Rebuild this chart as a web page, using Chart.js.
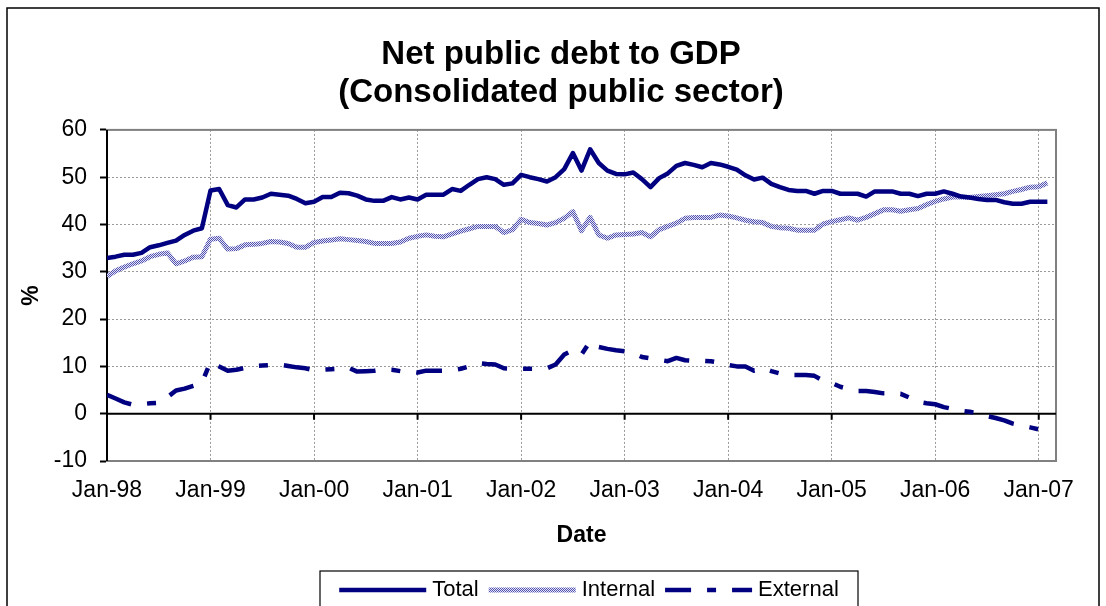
<!DOCTYPE html>
<html>
<head>
<meta charset="utf-8">
<script src="https://cdn.jsdelivr.net/npm/chart.js@4.4.1/dist/chart.umd.min.js"></script>
<style>
  body { margin: 0; background: #fff; }
</style>
</head>
<body>
<canvas id="myChart" width="1106" height="606"></canvas>
<script>
// monthly, Jan-98 .. Feb-07
const tickLabels = ["Jan-98", "Jan-99", "Jan-00", "Jan-01", "Jan-02", "Jan-03", "Jan-04", "Jan-05", "Jan-06", "Jan-07"];

const total = [
  32.9, 33.2, 33.6, 33.6, 34.0, 35.2, 35.6, 36.1, 36.6, 37.8, 38.7, 39.2,
  47.2, 47.5, 44.1, 43.6, 45.3, 45.3, 45.7, 46.5, 46.3, 46.1, 45.4, 44.5,
  44.8, 45.8, 45.8, 46.7, 46.6, 46.1, 45.3, 45.0, 45.0, 45.8, 45.3, 45.7,
  45.3, 46.3, 46.3, 46.3, 47.5, 47.1, 48.4, 49.6, 50.0, 49.6, 48.4, 48.7,
  50.5, 50.0, 49.6, 49.1, 50.0, 51.7, 55.1, 51.4, 55.9, 53.0, 51.4, 50.7,
  50.6, 51.0, 49.6, 47.9, 49.8, 50.8, 52.4, 53.0, 52.6, 52.1, 53.0, 52.7,
  52.2, 51.6, 50.4, 49.5, 49.9, 48.6, 47.9, 47.3, 47.1, 47.1, 46.5, 47.1,
  47.1, 46.5, 46.5, 46.5, 45.9, 47.0, 47.0, 47.0, 46.5, 46.5, 46.0, 46.5,
  46.5, 47.0, 46.5, 45.9, 45.7, 45.4, 45.2, 45.2, 44.7, 44.4, 44.4, 44.8,
  44.8, 44.8
];

const internal = [
  29.0, 30.2, 31.0, 31.7, 32.3, 33.2, 33.7, 34.0, 31.7, 32.3, 33.1, 33.2,
  36.9, 37.1, 34.8, 34.9, 35.7, 35.8, 36.0, 36.4, 36.3, 36.0, 35.2, 35.2,
  36.2, 36.5, 36.7, 37.0, 36.8, 36.6, 36.4, 36.0, 36.0, 36.0, 36.3, 37.1,
  37.5, 37.8, 37.5, 37.4, 38.0, 38.6, 39.1, 39.6, 39.6, 39.6, 38.3, 38.9,
  41.1, 40.4, 40.2, 39.9, 40.4, 41.3, 42.7, 38.7, 41.5, 37.8, 37.1, 37.8,
  37.9, 38.0, 38.3, 37.4, 38.9, 39.6, 40.3, 41.3, 41.5, 41.5, 41.5, 42.0,
  41.8, 41.4, 40.9, 40.6, 40.4, 39.6, 39.3, 39.2, 38.8, 38.8, 38.8, 40.1,
  40.6, 41.0, 41.4, 40.9, 41.5, 42.3, 43.1, 43.1, 42.8, 43.1, 43.4, 44.2,
  44.9, 45.4, 45.8, 45.8, 45.7, 45.9, 46.1, 46.3, 46.5, 47.0, 47.4, 47.9,
  48.0, 48.8
];

const external = [
  4.0, 3.2, 2.4, 1.9, 2.0, 2.2, 2.3, 3.5, 4.9, 5.3, 5.9, 6.5,
  11.0, 10.0, 9.1, 9.3, 9.7, 10.1, 10.2, 10.3, 10.4, 10.1, 9.8, 9.6,
  9.2, 9.3, 9.4, 9.5, 9.7, 8.9, 9.0, 9.1, 9.4, 9.3, 9.0, 8.9,
  8.7, 9.1, 9.1, 9.1, 9.2, 9.5, 10.0, 10.7, 10.5, 10.4, 9.6, 9.5,
  9.5, 9.5, 9.5, 9.6, 10.4, 12.5, 13.4, 12.5, 15.3, 14.1, 13.7, 13.4,
  13.2, 12.8, 12.0, 11.7, 11.4, 11.1, 11.8, 11.3, 11.2, 11.2, 11.1, 10.8,
  10.3, 10.0, 10.0, 9.1, 9.6, 9.0, 8.5, 8.2, 8.2, 8.2, 8.0, 7.0,
  6.5, 5.7, 5.2, 4.8, 4.8, 4.6, 4.3, 4.3, 4.2, 3.4, 2.5, 2.2,
  2.0, 1.4, 1.0, 0.6, 0.4, 0.1, -0.5, -0.9, -1.4, -2.1, -2.5, -2.9,
  -3.3, -4.3
];

const FONT = "'Liberation Sans', Arial, sans-serif";
const navy = "#000080";
Chart.defaults.font.family = FONT;
Chart.defaults.color = "#000";

const canvas = document.getElementById("myChart");
const ctx = canvas.getContext("2d");

// checkered stroke for the Internal series
const tile = document.createElement("canvas");
tile.width = 2;
tile.height = 2;
const tctx = tile.getContext("2d");
tctx.fillStyle = "#e6e6f7";
tctx.fillRect(0, 0, 2, 2);
tctx.fillStyle = "#5252b0";
tctx.fillRect(0, 0, 1, 1);
tctx.fillRect(1, 1, 1, 1);
const internalPattern = ctx.createPattern(tile, "repeat");

const toPoints = (arr) => arr.map((v, i) => ({ x: i, y: v }));

const framePlugin = {
  id: "frame",
  beforeDatasetsDraw(chart) {
    const { ctx, chartArea: a, scales: { x, y } } = chart;
    ctx.save();
    ctx.strokeStyle = "#808080";
    ctx.lineWidth = 2;
    ctx.strokeRect(a.left, a.top, a.right - a.left, a.bottom - a.top);

    // axis line at zero with its year ticks
    const y0 = y.getPixelForValue(0);
    ctx.strokeStyle = "#000";
    ctx.lineWidth = 2;
    ctx.beginPath();
    ctx.moveTo(a.left, y0);
    ctx.lineTo(a.right, y0);
    tickLabels.forEach((_, k) => {
      const px = x.getPixelForValue(k * 12);
      ctx.moveTo(px, y0);
      ctx.lineTo(px, y0 + 6);
    });
    ctx.moveTo(a.left, a.top);
    ctx.lineTo(a.left, a.bottom);
    ctx.stroke();
    ctx.restore();
  },
  afterDraw(chart) {
    const { ctx } = chart;
    ctx.save();
    // outer frame
    ctx.strokeStyle = "#000";
    ctx.lineWidth = 1.5;
    ctx.strokeRect(7, 8, 1092, 700);

    // legend
    const boxL = 320, boxR = 858, boxT = 571, ly = 590;
    ctx.lineWidth = 1.2;
    ctx.strokeRect(boxL, boxT, boxR - boxL, 80);
    ctx.font = "22px " + FONT;
    ctx.textBaseline = "middle";
    ctx.fillStyle = "#000";
    const sampleW = 87, gapA = 6, gapB = 10;
    const items = chart.data.datasets.map((ds) => ({
      ds,
      w: sampleW + gapA + ctx.measureText(ds.label).width
    }));
    const totalW = items.reduce((s, it) => s + it.w, 0) + gapB * (items.length - 1);
    let cx = (boxL + boxR) / 2 - totalW / 2;
    items.forEach(({ ds, w }) => {
      ctx.save();
      ctx.strokeStyle = ds.borderColor;
      ctx.lineWidth = ds.borderWidth;
      ctx.setLineDash(ds.borderDash || []);
      ctx.beginPath();
      ctx.moveTo(cx, ly);
      ctx.lineTo(cx + sampleW, ly);
      ctx.stroke();
      ctx.restore();
      ctx.fillText(ds.label, cx + sampleW + gapA, ly);
      cx += w + gapB;
    });
    ctx.restore();
  }
};

new Chart(ctx, {
  type: "line",
  data: {
    datasets: [
      {
        label: "Total",
        data: toPoints(total),
        borderColor: navy,
        borderWidth: 4.5
      },
      {
        label: "Internal",
        data: toPoints(internal),
        borderColor: internalPattern,
        borderWidth: 5
      },
      {
        label: "External",
        data: toPoints(external),
        borderColor: navy,
        borderWidth: 4.5,
        borderDash: [26, 16, 9, 16]
      }
    ]
  },
  options: {
    responsive: false,
    animation: false,
    events: [],
    elements: {
      point: { radius: 0 },
      line: { tension: 0, borderCapStyle: "butt", borderJoinStyle: "round" }
    },
    layout: { padding: { left: 16, right: 0, top: 0, bottom: 46 } },
    plugins: {
      legend: { display: false },
      tooltip: { enabled: false },
      title: {
        display: true,
        text: ["Net public debt to GDP", "(Consolidated public sector)"],
        color: "#000",
        font: { size: 33, weight: "bold", lineHeight: 1.15 },
        padding: { top: 36, bottom: 18 }
      }
    },
    scales: {
      x: {
        type: "linear",
        min: 0,
        max: 110,
        afterFit: (s) => { s.height = 99; },
        grid: { color: "#9a9a9a", lineWidth: 1, drawTicks: false },
        border: { display: false, dash: [2, 2] },
        ticks: {
          stepSize: 12,
          includeBounds: false,
          autoSkip: false,
          maxRotation: 0,
          padding: 16,
          font: { size: 23 },
          callback: (v) => (v % 12 === 0 ? tickLabels[v / 12] : "")
        },
        title: {
          display: true,
          text: "Date",
          font: { size: 23, weight: "bold" },
          padding: { top: 0, bottom: 11 }
        }
      },
      y: {
        min: -10,
        max: 60,
        afterFit: (s) => { s.width = 91; },
        grid: { color: "#9a9a9a", lineWidth: 1, tickLength: 7, tickColor: "#000", tickWidth: 2 },
        border: { display: true, color: "#000", width: 2, dash: [2, 2] },
        ticks: { stepSize: 10, padding: 13, font: { size: 23 } },
        title: {
          display: true,
          text: "%",
          font: { size: 23, weight: "bold" },
          padding: { top: 2, bottom: 0 }
        }
      },
      // empty right-hand axis, only reserves the margin right of the plot
      yRight: {
        position: "right",
        min: -10,
        max: 60,
        afterFit: (s) => { s.width = 50; },
        grid: { drawOnChartArea: false, drawTicks: false },
        border: { display: false },
        ticks: { display: false }
      }
    }
  },
  plugins: [framePlugin]
});
</script>
</body>
</html>
